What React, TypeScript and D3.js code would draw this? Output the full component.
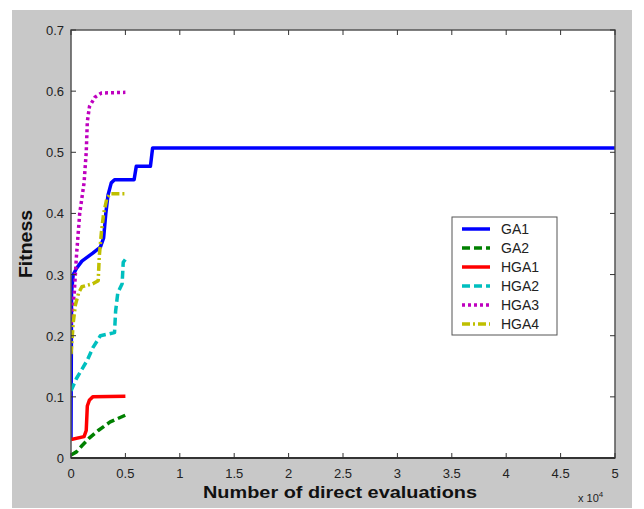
import React from 'react';
import * as d3 from 'd3';

// x in units of 10^4 evaluations
const ga1X = [0, 0.005, 0.02, 0.05, 0.1, 0.2, 0.27, 0.3, 0.32, 0.34, 0.37, 0.4, 0.58, 0.6, 0.73, 0.75, 5];
const ga1Y = [0.03, 0.27, 0.3, 0.31, 0.322, 0.335, 0.345, 0.36, 0.4, 0.43, 0.45, 0.455, 0.455, 0.477, 0.477, 0.507, 0.507];

const ga2X = [0, 0.05, 0.1, 0.17, 0.25, 0.36, 0.5];
const ga2Y = [0.005, 0.01, 0.02, 0.033, 0.045, 0.059, 0.07];

const hga1X = [0, 0.12, 0.14, 0.15, 0.17, 0.2, 0.5];
const hga1Y = [0.03, 0.035, 0.045, 0.085, 0.095, 0.1, 0.101];

const hga2X = [0, 0.05, 0.1, 0.15, 0.2, 0.27, 0.4, 0.41, 0.43, 0.47, 0.48, 0.5];
const hga2Y = [0.11, 0.13, 0.145, 0.16, 0.18, 0.2, 0.205, 0.24, 0.27, 0.285, 0.32, 0.325];

const hga3X = [0, 0.03, 0.05, 0.08, 0.12, 0.14, 0.15, 0.17, 0.22, 0.28, 0.5];
const hga3Y = [0.22, 0.27, 0.33, 0.4, 0.45, 0.5, 0.55, 0.575, 0.59, 0.597, 0.598];

const hga4X = [0, 0.02, 0.04, 0.07, 0.1, 0.2, 0.25, 0.26, 0.28, 0.3, 0.33, 0.36, 0.5];
const hga4Y = [0.17, 0.22, 0.25, 0.27, 0.28, 0.285, 0.29, 0.33, 0.37, 0.4, 0.425, 0.432, 0.432];

const seriesNames = ['GA1', 'GA2', 'HGA1', 'HGA2', 'HGA3', 'HGA4'];
const xTicks = [0, 0.5, 1, 1.5, 2, 2.5, 3, 3.5, 4, 4.5, 5];
const yTicks = [0, 0.1, 0.2, 0.3, 0.4, 0.5, 0.6, 0.7];

const series = [
  { name: seriesNames[0], xs: ga1X, ys: ga1Y, color: '#0000ff', dash: 'none' },
  { name: seriesNames[1], xs: ga2X, ys: ga2Y, color: '#008000', dash: '8,4' },
  { name: seriesNames[2], xs: hga1X, ys: hga1Y, color: '#ff0000', dash: 'none' },
  { name: seriesNames[3], xs: hga2X, ys: hga2Y, color: '#00bfbf', dash: '8,4' },
  { name: seriesNames[4], xs: hga3X, ys: hga3Y, color: '#bf00bf', dash: '3,3' },
  { name: seriesNames[5], xs: hga4X, ys: hga4Y, color: '#bfbf00', dash: '8,3,2,3' },
];

export default function App() {
  const width = 644, height = 509;
  const left = 71, right = 615, top = 30, bottom = 458;

  const x = d3.scaleLinear().domain([0, 5]).range([left, right]);
  const y = d3.scaleLinear().domain([0, 0.7]).range([bottom, top]);

  const line = d3.line<[number, number]>()
    .x(d => x(d[0]))
    .y(d => y(d[1]));

  const font = 'Arial, "Liberation Sans", sans-serif';

  return (
    <svg width={width} height={height} style={{ position: 'absolute', left: 0, top: 0 }}>
      <rect x={0} y={0} width={width} height={height} fill="#ffffff" />
      {/* figure background */}
      <rect x={12} y={10} width={620} height={498} fill="#c8c8c8" />
      {/* axes area */}
      <rect x={left} y={top} width={right - left} height={bottom - top} fill="#ffffff" />

      <clipPath id="plotClip">
        <rect x={left} y={top - 2} width={right - left} height={bottom - top + 2} />
      </clipPath>

      <g clipPath="url(#plotClip)">
        {series.map(s => (
          <path
            key={s.name}
            d={line(s.xs.map((v, i) => [v, s.ys[i]] as [number, number])) || ''}
            fill="none"
            stroke={s.color}
            strokeWidth={3.5}
            strokeDasharray={s.dash}
            strokeLinejoin="round"
          />
        ))}
      </g>

      {/* frame */}
      <rect x={left} y={top} width={right - left} height={bottom - top} fill="none" stroke="#555" strokeWidth={1.5} />
      <line x1={left} x2={right} y1={bottom} y2={bottom} stroke="#333" strokeWidth={2} />

      {/* x ticks */}
      {xTicks.map(t => (
        <g key={'x' + t}>
          <line x1={x(t)} x2={x(t)} y1={bottom} y2={bottom - 5} stroke="#333" />
          <line x1={x(t)} x2={x(t)} y1={top} y2={top + 5} stroke="#333" />
          <text x={x(t)} y={bottom + 20} textAnchor="middle" fontFamily={font} fontSize={13} fill="#222">
            {t}
          </text>
        </g>
      ))}

      {/* y ticks */}
      {yTicks.map(t => (
        <g key={'y' + t}>
          <line x1={left} x2={left + 5} y1={y(t)} y2={y(t)} stroke="#333" />
          <line x1={right} x2={right - 5} y1={y(t)} y2={y(t)} stroke="#333" />
          <text x={left - 7} y={y(t) + 5} textAnchor="end" fontFamily={font} fontSize={13} fill="#222">
            {t}
          </text>
        </g>
      ))}

      {/* axis labels */}
      <text
        x={203}
        y={498}
        textLength={274}
        lengthAdjust="spacingAndGlyphs"
        fontFamily={font}
        fontSize={16}
        fontWeight="bold"
        fill="#111"
      >
        Number of direct evaluations
      </text>
      <text x={578} y={502} fontFamily={font} fontSize={11} fill="#222">
        x 10<tspan dy={-5} fontSize={8}>4</tspan>
      </text>
      <text
        transform="translate(32,244) rotate(-90)"
        textAnchor="middle"
        textLength={68}
        lengthAdjust="spacingAndGlyphs"
        fontFamily={font}
        fontSize={18}
        fontWeight="bold"
        fill="#111"
      >
        Fitness
      </text>

      {/* legend */}
      <rect x={452} y={217} width={105} height={118} fill="#ffffff" stroke="#555" strokeWidth={1} />
      {series.map((s, i) => (
        <g key={'lg' + s.name}>
          <line
            x1={462}
            x2={490}
            y1={229 + i * 19}
            y2={229 + i * 19}
            stroke={s.color}
            strokeWidth={3.5}
            strokeDasharray={s.dash}
          />
          <text x={501} y={234 + i * 19} fontFamily={font} fontSize={14} fill="#222">
            {s.name}
          </text>
        </g>
      ))}
    </svg>
  );
}
